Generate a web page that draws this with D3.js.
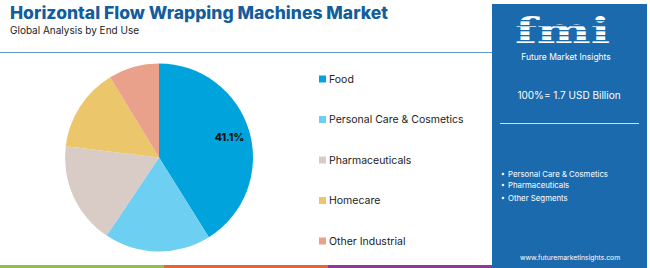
<!DOCTYPE html>
<html>
<head>
<meta charset="utf-8">
<script src="https://cdn.jsdelivr.net/npm/d3@7"></script>
<style>
  body { margin: 0; background: #fff; }
  svg { display: block; font-family: "Inter", "Open Sans", sans-serif; }
</style>
</head>
<body>
<div id="chart"></div>
<script>
// data
const categories = ["Food", "Personal Care & Cosmetics", "Pharmaceuticals", "Homecare", "Other Industrial"];
const shares = [41.1, 18.3, 17.5, 14.4, 8.7];
const sliceColors = ["#00a3dc", "#6dcff2", "#d9ccc7", "#ecc66b", "#e9a18b"];
const panelBullets = ["Personal Care & Cosmetics", "Pharmaceuticals", "Other Segments"];
const stripeColors = ["#8cc152", "#e4643a", "#8e3b97"];

const W = 650, H = 268;
const svg = d3.select("#chart").append("svg")
  .attr("width", W).attr("height", H);

// title
svg.append("text")
  .attr("x", 10).attr("y", 19)
  .attr("fill", "#135d9c")
  .style("font-size", "17px").style("font-weight", 800)
  .attr("textLength", 378).attr("lengthAdjust", "spacingAndGlyphs")
  .text("Horizontal Flow Wrapping Machines Market");
svg.append("text")
  .attr("x", 10).attr("y", 34)
  .attr("fill", "#222")
  .style("font-size", "10px")
  .text("Global Analysis by End Use");

svg.append("line")
  .attr("x1", 0).attr("x2", 492).attr("y1", 52.5).attr("y2", 52.5)
  .attr("stroke", "#3d80c0").attr("stroke-width", 1).attr("opacity", 0.8);

// pie
const color = d3.scaleOrdinal().domain(categories).range(sliceColors);
const data = categories.map((c, i) => ({cat: c, v: shares[i]}));
const pie = d3.pie().value(d => d.v).sort(null);
const r = 94;
const arc = d3.arc().innerRadius(0).outerRadius(r);
const g = svg.append("g").attr("transform", "translate(159,157.5)");
const arcs = pie(data);
g.selectAll("path")
  .data(arcs)
  .enter().append("path")
    .attr("d", arc)
    .attr("fill", d => color(d.data.cat));

const labelArc = d3.arc().innerRadius(r * 0.78).outerRadius(r * 0.78);
g.append("text")
  .datum(arcs[0])
  .attr("transform", d => `translate(${labelArc.centroid(d)})`)
  .attr("text-anchor", "middle").attr("dy", "0.35em")
  .style("font-size", "10.5px").style("font-weight", 800)
  .attr("fill", "#111")
  .text(d => d.data.v.toFixed(1) + "%");

// legend
const legend = svg.append("g").attr("transform", "translate(319,79)");
const items = legend.selectAll(".legend-item")
  .data(categories)
  .enter().append("g")
    .attr("class", "legend-item")
    .attr("transform", (d, i) => `translate(0,${i * 40.5})`);
items.append("rect")
  .attr("x", 0).attr("y", -3.5)
  .attr("width", 7).attr("height", 7)
  .attr("fill", d => color(d));
items.append("text")
  .attr("x", 10).attr("dy", "0.35em")
  .style("font-size", "10.5px")
  .attr("fill", "#222")
  .text(d => d);

// right panel
const panel = svg.append("g");
panel.append("rect")
  .attr("x", 492).attr("y", 4).attr("width", 155).attr("height", H - 4)
  .attr("fill", "#1b6aae");

// fmi logo (text approximation)
panel.append("text")
  .attr("x", 515).attr("y", 43)
  .attr("fill", "#fff")
  .style("font-family", "DejaVu Serif, serif")
  .style("font-size", "36px").style("font-weight", 700)
  .attr("textLength", 95).attr("lengthAdjust", "spacingAndGlyphs")
  .text("fmi");
[0, 1, 2, 3, 4].forEach(i => {
  panel.append("rect")
    .attr("x", 512).attr("y", 20 + i * 5).attr("width", 102).attr("height", 1.3)
    .attr("fill", "#1b6aae");
});
panel.append("text")
  .attr("x", 566).attr("y", 60)
  .attr("text-anchor", "middle").attr("fill", "#fff")
  .style("font-size", "8.5px")
  .text("Future Market Insights");

panel.append("text")
  .attr("x", 569).attr("y", 99)
  .attr("text-anchor", "middle").attr("fill", "#fff")
  .style("font-size", "10px")
  .text("100%= 1.7 USD Billion");
panel.append("line")
  .attr("x1", 500).attr("x2", 639).attr("y1", 123.5).attr("y2", 123.5)
  .attr("stroke", "#fff").attr("stroke-width", 1).attr("opacity", 0.8);

const bullets = panel.selectAll(".bullet")
  .data(panelBullets)
  .enter().append("g")
    .attr("transform", (d, i) => `translate(503,${[174, 185, 198][i]})`);
bullets.append("circle").attr("r", 1.3).attr("fill", "#fff");
bullets.append("text")
  .attr("x", 5).attr("dy", "0.35em")
  .attr("fill", "#fff").style("font-size", "7.8px")
  .text(d => d);

panel.append("text")
  .attr("x", 570).attr("y", 260)
  .attr("text-anchor", "middle").attr("fill", "#fff")
  .style("font-size", "6.8px")
  .text("www.futuremarketinsights.com");

// bottom stripe
const stripeX = d3.scaleBand().domain(d3.range(stripeColors.length)).range([0, 492]);
svg.selectAll(".stripe")
  .data(stripeColors)
  .enter().append("rect")
    .attr("x", (d, i) => stripeX(i)).attr("y", 265)
    .attr("width", stripeX.bandwidth()).attr("height", 3)
    .attr("fill", d => d);
</script>
</body>
</html>
